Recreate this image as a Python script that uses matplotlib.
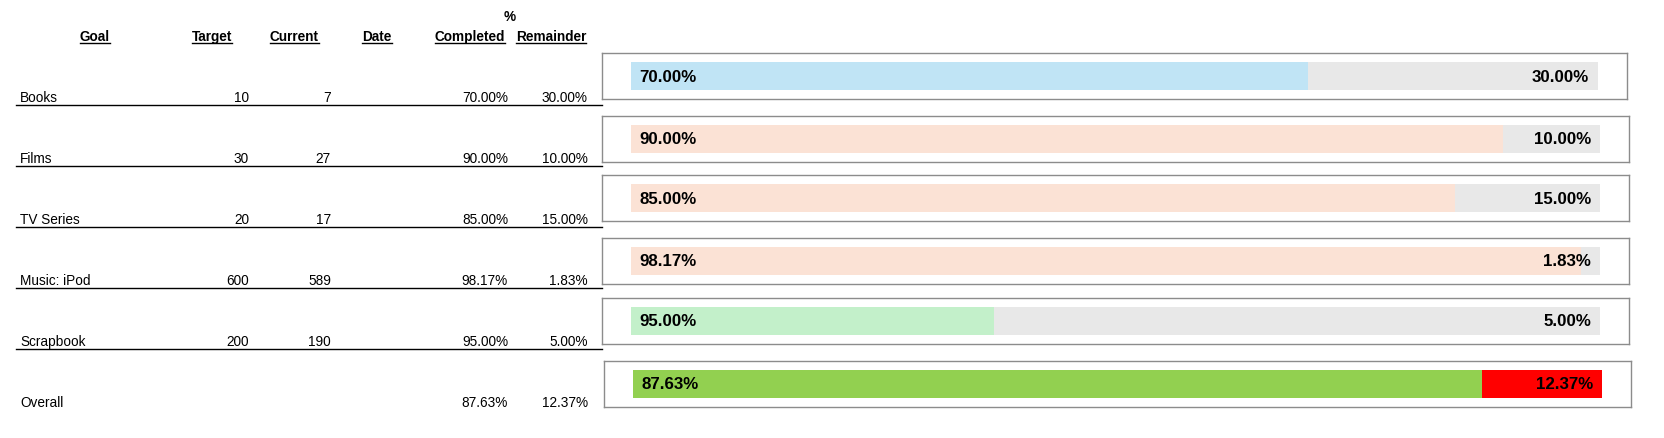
import matplotlib
matplotlib.use("Agg")
import matplotlib.pyplot as plt
from matplotlib.lines import Line2D

# table data
goals = ["Books", "Films", "TV Series", "Music: iPod", "Scrapbook", "Overall"]
targets = [10, 30, 20, 600, 200, None]
current = [7, 27, 17, 589, 190, None]
completed = [70.00, 90.00, 85.00, 98.17, 95.00, 87.63]
remainder = [30.00, 10.00, 15.00, 1.83, 5.00, 12.37]
# filled share of each progress bar as drawn in the sheet
bar_fill = [0.70, 0.90, 0.85, 0.98, 0.375, 0.876]

headers = ["Goal", "Target", "Current", "Date", "Completed", "Remainder"]
fill_colors = ["#C0E4F5", "#FBE2D5", "#FBE2D5", "#FBE2D5", "#C3F0CA", "#92D050"]
rest_colors = ["#E8E8E8"] * 5 + ["#FF0000"]

W, H = 1664, 439
fig = plt.figure(figsize=(W / 100, H / 100), dpi=100)
fig.patch.set_facecolor("white")

def fx(px):
    return px / W

def fy(py):
    return 1 - py / H

table_font = ["Liberation Sans", "DejaVu Sans"]
fs = 9.8

# header row
header_x = [95, 212, 294, 377, 470, 551]
heads = []
for hx, h in zip(header_x, headers):
    t = fig.text(fx(hx), fy(41), h, ha="center", va="baseline",
                 family=table_font, fontsize=fs, fontweight="bold")
    heads.append(t)
fig.text(fx(510), fy(21), "%", ha="center", va="baseline",
         family=table_font, fontsize=fs, fontweight="bold")

# rows
row_gap = 61
for i, g in enumerate(goals):
    line_y = 106 + row_gap * i
    base = line_y - 4
    fig.text(fx(20), fy(base), g, ha="left", va="baseline",
             family=table_font, fontsize=fs)
    if targets[i] is not None:
        fig.text(fx(249), fy(base), str(targets[i]), ha="right",
                 va="baseline", family=table_font, fontsize=fs)
        fig.text(fx(331), fy(base), str(current[i]), ha="right",
                 va="baseline", family=table_font, fontsize=fs)
    fig.text(fx(508), fy(base), f"{completed[i]:.2f}%", ha="right",
             va="baseline", family=table_font, fontsize=fs)
    fig.text(fx(588), fy(base), f"{remainder[i]:.2f}%", ha="right",
             va="baseline", family=table_font, fontsize=fs)
    if i < len(goals) - 1:
        fig.add_artist(Line2D([fx(16), fx(602)], [fy(line_y), fy(line_y)],
                              transform=fig.transFigure, color="black", lw=1.0))

# underline the headers
fig.canvas.draw()
r = fig.canvas.get_renderer()
for t in heads:
    bb = t.get_window_extent(renderer=r)
    fig.add_artist(Line2D([bb.x0 / W, bb.x1 / W], [fy(43.5), fy(43.5)],
                          transform=fig.transFigure, color="black", lw=1.0))

# progress bar boxes
box_top = [54, 117, 176, 239, 299, 362]
box_left = [602, 602, 602, 602, 602, 604]
box_right = [1627, 1629, 1629, 1629, 1629, 1631]
box_h = 46
inset = 29

for i in range(len(goals)):
    l, rgt, top = box_left[i], box_right[i], box_top[i]
    ax = fig.add_axes([fx(l), fy(top + box_h), (rgt - l) / W, box_h / H])
    span = (rgt - l) - 2 * inset
    ax.set_xlim(-inset / span, 1 + inset / span)
    ax.set_ylim(-0.5, 0.5)
    ax.barh([0], [bar_fill[i]], height=28 / box_h, color=fill_colors[i])
    ax.barh([0], [1 - bar_fill[i]], left=[bar_fill[i]], height=28 / box_h,
            color=rest_colors[i])
    ax.annotate(f"{completed[i]:.2f}%", xy=(0, 0), xytext=(8, 0),
                textcoords="offset pixels", ha="left", va="center",
                family="Liberation Sans", fontsize=12.2, fontweight="bold")
    ax.annotate(f"{remainder[i]:.2f}%", xy=(1, 0), xytext=(-9, 0),
                textcoords="offset pixels", ha="right", va="center",
                family="Liberation Sans", fontsize=12.2, fontweight="bold")
    ax.set_xticks([])
    ax.set_yticks([])
    for s in ax.spines.values():
        s.set_color("#8C8C8C")
        s.set_linewidth(1.0)

fig.savefig("out.png", dpi=100)
